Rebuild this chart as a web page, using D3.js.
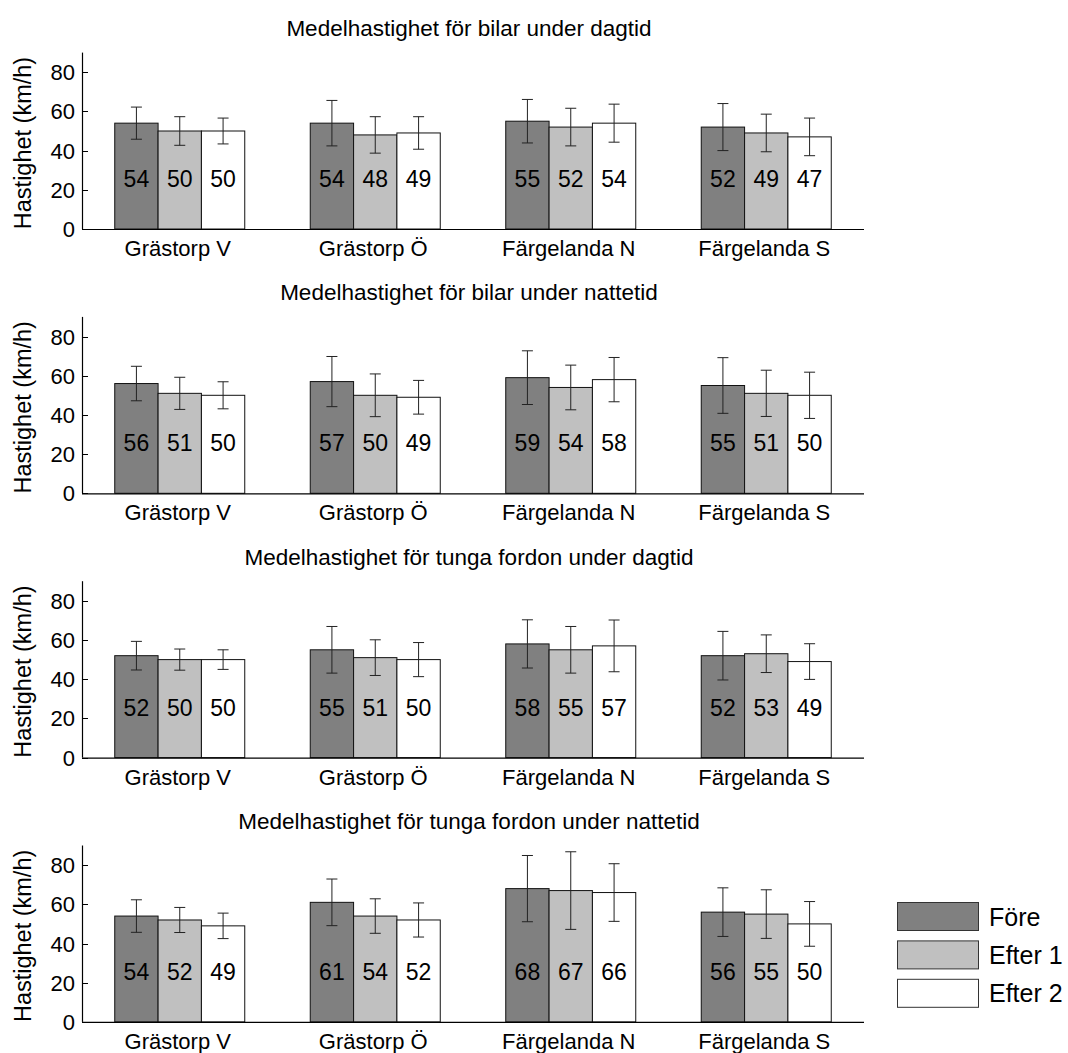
<!DOCTYPE html>
<html>
<head>
<meta charset="utf-8">
<script src="https://cdn.jsdelivr.net/npm/d3@7"></script>
<style>
  body { margin: 0; background: #fff; }
  svg text { font-family: "Liberation Sans", Arial, sans-serif; fill: #000; }
</style>
</head>
<body>
<div id="chart"></div>
<script>
// categories, series and tick labels
var categories = ["Grästorp V", "Grästorp Ö", "Färgelanda N", "Färgelanda S"];
var series = ["Före", "Efter 1", "Efter 2"];
var colors = ["#808080", "#c0c0c0", "#ffffff"];
var yTicks = [0, 20, 40, 60, 80];

var titles = [
  "Medelhastighet för bilar under dagtid",
  "Medelhastighet för bilar under nattetid",
  "Medelhastighet för tunga fordon under dagtid",
  "Medelhastighet för tunga fordon under nattetid"
];

// means per category: [Före, Efter 1, Efter 2]
var bilarDag = [[54, 50, 50], [54, 48, 49], [55, 52, 54], [52, 49, 47]];
var bilarNatt = [[56, 51, 50], [57, 50, 49], [59, 54, 58], [55, 51, 50]];
var tungaDag = [[52, 50, 50], [55, 51, 50], [58, 55, 57], [52, 53, 49]];
var tungaNatt = [[54, 52, 49], [61, 54, 52], [68, 67, 66], [56, 55, 50]];

// standard deviations (error bars)
var bilarDagSd = [[8.2, 7.3, 6.6], [11.6, 9.3, 8.3], [11.1, 9.6, 9.7], [12.0, 9.6, 9.6]];
var bilarNattSd = [[8.8, 8.2, 6.9], [12.8, 10.9, 8.6], [13.7, 11.4, 11.3], [14.2, 11.8, 11.8]];
var tungaDagSd = [[7.3, 5.4, 5.0], [11.9, 9.1, 8.7], [12.3, 11.9, 13.2], [12.4, 9.6, 9.1]];
var tungaNattSd = [[8.3, 6.4, 6.5], [11.9, 8.8, 8.7], [16.9, 19.8, 14.7], [12.4, 12.4, 11.4]];

var panels = [
  { title: titles[0], means: bilarDag, sd: bilarDagSd },
  { title: titles[1], means: bilarNatt, sd: bilarNattSd },
  { title: titles[2], means: tungaDag, sd: tungaDagSd },
  { title: titles[3], means: tungaNatt, sd: tungaNattSd }
];

var width = 1068, height = 1053;
var left = 82, right = 864;
var firstZero = 229, panelStep = 264.3;
var plotH = 176.4;

var svg = d3.select("#chart").append("svg")
  .attr("width", width).attr("height", height);

var x = d3.scaleBand().domain(categories).range([left, right])
  .paddingInner(0.335).paddingOuter(0.1675);
var xs = d3.scaleBand().domain(series).range([0, x.bandwidth()]);

function label(g, txt, px, py, size, anchor) {
  return g.append("text")
    .attr("x", px).attr("y", py)
    .attr("text-anchor", anchor || "middle")
    .style("font-size", size + "px")
    .text(txt);
}

panels.forEach(function(p, pi) {
  var zero = firstZero + pi * panelStep;
  var y = d3.scaleLinear().domain([0, 90]).range([zero, zero - plotH]);
  var g = svg.append("g");

  label(g, p.title, 469, zero - 193, 22.5);

  // y axis title
  g.append("text")
    .attr("transform", "translate(31," + (zero - 86) + ") rotate(-90)")
    .attr("text-anchor", "middle")
    .style("font-size", "23.5px")
    .text("Hastighet (km/h)");

  var groups = g.selectAll(".grp").data(categories).enter().append("g")
    .attr("transform", function(d) { return "translate(" + x(d) + ",0)"; });

  groups.each(function(cat, ci) {
    var gg = d3.select(this);
    var vals = series.map(function(s, si) {
      return { s: s, i: si, v: p.means[ci][si], e: p.sd[ci][si] };
    });

    gg.selectAll("rect").data(vals).enter().append("rect")
      .attr("x", function(d) { return xs(d.s); })
      .attr("y", function(d) { return y(d.v); })
      .attr("width", xs.bandwidth())
      .attr("height", function(d) { return y(0) - y(d.v); })
      .attr("fill", function(d) { return colors[d.i]; })
      .attr("stroke", "#111").attr("stroke-width", 1);

    // error bars
    vals.forEach(function(d) {
      var cx = xs(d.s) + xs.bandwidth() / 2;
      var path = d3.path();
      path.moveTo(cx, y(d.v + d.e)); path.lineTo(cx, y(d.v - d.e));
      path.moveTo(cx - 5.5, y(d.v + d.e)); path.lineTo(cx + 5.5, y(d.v + d.e));
      path.moveTo(cx - 5.5, y(d.v - d.e)); path.lineTo(cx + 5.5, y(d.v - d.e));
      gg.append("path").attr("d", path.toString())
        .attr("stroke", "#222").attr("stroke-width", 1).attr("fill", "none");
      label(gg, d.v, cx, zero - 42, 23);
    });

    label(g, cat, x(cat) + x.bandwidth() / 2 - 2, zero + 27, 22);
  });

  // axes
  g.append("line").attr("x1", left).attr("x2", right)
    .attr("y1", zero + 0.5).attr("y2", zero + 0.5)
    .attr("stroke", "#000").attr("stroke-width", 1.2);
  g.append("line").attr("x1", left + 0.5).attr("x2", left + 0.5)
    .attr("y1", y(90)).attr("y2", zero)
    .attr("stroke", "#000").attr("stroke-width", 1.2);
  yTicks.forEach(function(t) {
    g.append("line").attr("x1", left).attr("x2", left + 6)
      .attr("y1", Math.round(y(t)) + 0.5).attr("y2", Math.round(y(t)) + 0.5)
      .attr("stroke", "#000");
    label(g, t, 75, y(t) + 8, 22, "end");
  });
});

// legend
var legend = svg.append("g");
series.forEach(function(s, i) {
  var ly = 902 + i * 38.4;
  legend.append("rect").attr("x", 897.5).attr("y", ly + 0.5)
    .attr("width", 81).attr("height", 28)
    .attr("fill", colors[i]).attr("stroke", "#333").attr("stroke-width", 1);
  label(legend, s, 989, ly + 23.5, 25, "start");
});
</script>
</body>
</html>
